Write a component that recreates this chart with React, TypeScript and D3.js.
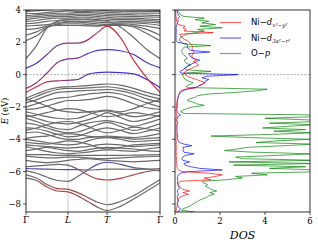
import React from 'react';
import * as d3 from 'd3';

// k path: Γ - L - T - Γ
const K_POINTS = [0, 0.25, 0.5, 0.75, 1.0, 1.23, 1.47, 1.7, 1.93, 2.245, 2.56, 2.875, 3.19];
const K_TICKS = [0, 1.0, 1.93, 3.19];
const K_LABELS = ['Γ', 'L', 'T', 'Γ'];
const E_TICKS = [4, 2, 0, -2, -4, -6, -8];
const DOS_TICKS = [0, 2, 4, 6];

// plain bands (eV at each k point)
const GRAY_BANDS: number[][] = [
  [1.0, 1.8, 2.9, 3.3, 3.4, 3.45, 3.4, 3.35, 3.3, 2.95, 2.3, 1.55, 1.0],
  [2.1, 2.4, 2.9, 3.15, 3.25, 3.25, 3.2, 3.15, 3.1, 3.1, 2.95, 2.55, 2.1],
  [2.45, 2.65, 2.95, 3.1, 3.15, 3.15, 3.1, 3.05, 3.05, 3.05, 3.0, 2.8, 2.45],
  [2.8, 2.85, 3.0, 3.05, 3.05, 3.05, 3.02, 3.0, 3.1, 3.15, 3.1, 3.0, 2.85],
  [3.0, 3.05, 3.1, 3.2, 3.3, 3.3, 3.3, 3.25, 3.2, 3.2, 3.2, 3.15, 3.05],
  [3.15, 3.2, 3.3, 3.35, 3.4, 3.4, 3.45, 3.4, 3.35, 3.3, 3.3, 3.25, 3.2],
  [3.3, 3.35, 3.45, 3.5, 3.5, 3.55, 3.55, 3.5, 3.45, 3.4, 3.4, 3.35, 3.3],
  [3.4, 3.5, 3.55, 3.6, 3.6, 3.65, 3.65, 3.6, 3.55, 3.5, 3.5, 3.45, 3.4],
  [3.55, 3.6, 3.65, 3.7, 3.7, 3.75, 3.75, 3.7, 3.65, 3.62, 3.6, 3.58, 3.55],
  [3.65, 3.7, 3.75, 3.8, 3.8, 3.85, 3.85, 3.8, 3.75, 3.72, 3.7, 3.68, 3.65],
  [3.8, 3.78, 3.85, 3.9, 3.95, 3.92, 3.9, 3.88, 3.85, 3.82, 3.8, 3.8, 3.8],
  [3.9, 3.95, 4.0, 4.05, 4.1, 4.05, 4.0, 4.0, 3.95, 3.92, 3.9, 3.9, 3.9],
  [3.95, 4.1, 4.2, 4.3, 4.3, 4.2, 4.1, 4.1, 4.05, 4.05, 4.0, 4.0, 3.95],
  [-1.45, -1.2, -0.95, -0.8, -0.75, -0.72, -0.68, -0.62, -0.58, -0.65, -0.85, -1.1, -1.3],
  [-1.6, -1.35, -1.1, -0.92, -0.85, -0.85, -0.82, -0.78, -0.75, -0.85, -1.05, -1.3, -1.5],
  [-1.75, -1.55, -1.3, -1.1, -1.05, -1.0, -0.98, -0.95, -0.92, -1.0, -1.2, -1.5, -1.7],
  [-2.0, -1.8, -1.6, -1.45, -1.4, -1.3, -1.2, -1.15, -1.1, -1.2, -1.45, -1.75, -2.0],
  [-2.15, -2.1, -1.95, -1.75, -1.6, -1.6, -1.55, -1.45, -1.35, -1.5, -1.8, -2.05, -2.15],
  [-1.5, -1.7, -1.95, -2.2, -2.3, -2.35, -2.3, -2.25, -2.2, -2.3, -2.1, -1.8, -1.55],
  [-2.3, -2.45, -2.6, -2.7, -2.75, -2.7, -2.5, -2.3, -2.25, -2.4, -2.6, -2.5, -2.3],
  [-2.6, -2.5, -2.35, -2.2, -2.1, -2.15, -2.3, -2.5, -2.6, -2.5, -2.35, -2.45, -2.6],
  [-2.5, -2.7, -2.9, -3.0, -3.05, -2.95, -2.8, -2.6, -2.35, -2.65, -2.9, -2.75, -2.5],
  [-2.7, -2.9, -3.15, -3.35, -3.4, -3.2, -3.0, -2.9, -2.85, -3.0, -3.2, -3.0, -2.75],
  [-3.0, -3.1, -3.3, -3.5, -3.6, -3.55, -3.35, -3.1, -2.95, -3.2, -3.45, -3.3, -3.05],
  [-3.45, -3.3, -3.1, -2.95, -2.9, -3.0, -3.2, -3.45, -3.6, -3.45, -3.25, -3.35, -3.5],
  [-3.3, -3.35, -3.5, -3.7, -3.85, -3.8, -3.6, -3.4, -3.3, -3.45, -3.65, -3.5, -3.3],
  [-3.6, -3.55, -3.7, -3.9, -4.0, -4.0, -3.9, -3.85, -3.8, -3.85, -3.9, -3.8, -3.65],
  [-3.95, -3.85, -3.8, -3.7, -3.65, -3.7, -3.8, -3.85, -3.88, -3.9, -4.0, -3.95, -3.9],
  [-4.0, -4.1, -4.2, -4.3, -4.35, -4.3, -4.1, -3.95, -3.9, -4.0, -4.15, -4.1, -4.05],
  [-4.2, -4.25, -4.3, -4.2, -4.1, -4.15, -4.3, -4.5, -4.6, -4.5, -4.35, -4.3, -4.25],
  [-4.35, -4.4, -4.45, -4.5, -4.55, -4.5, -4.45, -4.35, -4.3, -4.35, -4.45, -4.4, -4.35],
  [-4.45, -4.6, -4.75, -4.85, -4.9, -4.85, -4.8, -4.7, -4.65, -4.7, -4.75, -4.6, -4.5],
  [-4.7, -4.6, -4.5, -4.6, -4.7, -4.75, -4.65, -4.55, -4.5, -4.55, -4.6, -4.7, -4.75],
  [-4.95, -4.95, -4.95, -5.0, -5.0, -5.0, -5.0, -5.0, -5.0, -5.0, -4.98, -4.97, -4.95],
  [-5.05, -5.1, -5.15, -5.15, -5.1, -5.1, -5.15, -5.2, -5.2, -5.15, -5.1, -5.08, -5.05],
  [-5.3, -5.4, -5.45, -5.4, -5.3, -5.25, -5.2, -5.25, -5.3, -5.35, -5.4, -5.35, -5.3],
];

// projected bands: energy, Ni-dx2-y2 weight, Ni-d3z2-r2 weight
const BAND_A = [-1.1, -0.75, -0.45, -0.38, -0.35, -0.3, 0.02, 0.13, 0.15, 0.13, 0.05, -0.3, -0.8];
const BAND_A_X = [0.85, 0.8, 0.75, 0.6, 0.5, 0.3, 0.1, 0.05, 0.05, 0.05, 0.05, 0.05, 0.05];
const BAND_A_Z = [0.05, 0.1, 0.15, 0.3, 0.4, 0.6, 0.8, 0.85, 0.85, 0.85, 0.85, 0.85, 0.85];

const BAND_B = [0.4, 0.7, 1.25, 1.8, 1.95, 1.95, 2.15, 2.6, 3.0, 2.3, 0.9, -0.2, -1.1];
const BAND_B_X = [0.05, 0.15, 0.35, 0.45, 0.45, 0.45, 0.6, 0.75, 0.85, 0.85, 0.85, 0.85, 0.85];
const BAND_B_Z = [0.85, 0.75, 0.55, 0.45, 0.45, 0.45, 0.3, 0.15, 0.05, 0.05, 0.05, 0.05, 0.05];

const BAND_C = [-0.85, -0.5, 0.1, 0.75, 0.97, 1.02, 1.3, 1.5, 1.55, 1.48, 1.25, 0.75, 0.42];
const BAND_C_X = [0.65, 0.6, 0.45, 0.4, 0.4, 0.35, 0.2, 0.1, 0.05, 0.05, 0.05, 0.05, 0.05];
const BAND_C_Z = [0.25, 0.3, 0.45, 0.5, 0.5, 0.55, 0.7, 0.8, 0.85, 0.85, 0.85, 0.85, 0.85];

const BAND_D = [-5.95, -6.1, -6.35, -6.55, -6.6, -6.3, -5.9, -5.55, -5.42, -5.55, -5.75, -5.85, -5.95];
const BAND_D_X = [0, 0, 0, 0, 0, 0, 0, 0, 0, 0, 0, 0, 0];
const BAND_D_Z = [0, 0, 0, 0, 0, 0.1, 0.3, 0.5, 0.6, 0.5, 0.3, 0.1, 0];

const BAND_E = [-5.82, -5.83, -5.85, -5.87, -5.88, -5.88, -5.9, -5.88, -5.85, -5.85, -5.86, -5.85, -5.82];
const BAND_E_X = [0, 0, 0, 0, 0, 0, 0, 0, 0, 0, 0, 0, 0];
const BAND_E_Z = [0.5, 0.5, 0.5, 0.5, 0.45, 0.3, 0.1, 0, 0, 0, 0, 0, 0];

const BAND_F = [-5.7, -5.65, -5.6, -5.55, -5.6, -5.85, -6.2, -6.45, -6.52, -6.42, -6.2, -6.0, -5.9];
const BAND_F_X = [0, 0, 0, 0, 0, 0.2, 0.5, 0.7, 0.75, 0.7, 0.55, 0.4, 0.2];
const BAND_F_Z = [0, 0, 0, 0, 0, 0, 0, 0, 0, 0, 0, 0, 0];

const BAND_G = [-6.2, -6.4, -6.8, -7.05, -7.1, -7.3, -7.6, -7.9, -8.05, -7.85, -7.5, -7.0, -6.5];
const BAND_H = [-6.4, -6.55, -6.95, -7.2, -7.25, -7.5, -7.85, -8.2, -8.4, -8.15, -7.7, -7.2, -6.7];
const BAND_GH_X = [0, 0.1, 0.4, 0.5, 0.5, 0.45, 0.3, 0.1, 0, 0, 0, 0, 0];
const BAND_GH_Z = [0, 0, 0, 0, 0, 0, 0, 0, 0, 0, 0, 0, 0];

// DOS sampled every 0.1 eV from -8.5 to 4.0
const DOS_E = d3.range(126).map((i) => -8.5 + i * 0.1);

const DOS_DX2Y2 = [
  0.05, 0.05, 0.06, 0.08, 0.1, 0.1, 0.12, 0.12, 0.15, 0.2,
  0.35, 0.6, 0.35, 0.65, 0.35, 0.25, 0.18, 0.15, 0.15, 0.25,
  1.6, 1.3, 1.8, 2.1, 1.5, 0.3, 0.15, 0.1, 0.08, 0.08,
  0.08, 0.07, 0.06, 0.07, 0.06, 0.05, 0.06, 0.05, 0.05, 0.06,
  0.06, 0.05, 0.05, 0.06, 0.05, 0.05, 0.04, 0.05, 0.05, 0.04,
  0.04, 0.05, 0.04, 0.05, 0.05, 0.04, 0.05, 0.04, 0.05, 0.06,
  0.08, 0.06, 0.05, 0.05, 0.06, 0.06, 0.07, 0.08, 0.08, 0.1,
  0.1, 0.12, 0.15, 0.18, 0.2, 0.25, 0.45, 0.95, 1.05, 1.2,
  1.35, 1.15, 0.95, 0.75, 0.55, 0.45, 0.4, 0.45, 0.6, 0.75,
  0.9, 1.05, 0.95, 0.8, 0.95, 0.85, 0.75, 0.75, 0.8, 0.85,
  0.8, 0.75, 0.8, 0.75, 0.7, 0.65, 0.55, 0.4, 0.3, 0.25,
  0.2, 1.7, 0.4, 0.5, 0.35, 0.45, 0.15, 0.1, 0.08, 0.06,
  0.05, 0.05, 0.04, 0.04, 0.03, 0.03,
];

const DOS_D3Z2R2 = [
  0.1, 0.2, 0.25, 0.15, 0.12, 0.1, 0.12, 0.15, 0.12, 0.1,
  0.12, 0.15, 0.12, 0.1, 0.15, 0.2, 0.15, 0.12, 0.1, 0.12,
  0.12, 0.1, 0.12, 0.15, 0.25, 0.6, 2.1, 1.1, 0.7, 0.45,
  0.4, 0.65, 0.35, 0.3, 0.35, 0.45, 0.85, 0.4, 0.35, 0.4,
  0.35, 0.75, 0.4, 0.2, 0.15, 0.12, 0.1, 0.12, 0.1, 0.1,
  0.1, 0.08, 0.1, 0.08, 0.1, 0.12, 0.1, 0.08, 0.1, 0.12,
  0.25, 0.15, 0.1, 0.08, 0.08, 0.1, 0.1, 0.1, 0.1, 0.12,
  0.12, 0.15, 0.15, 0.2, 0.25, 0.35, 0.55, 0.9, 1.05, 1.2,
  1.3, 1.35, 1.5, 1.2, 1.4, 2.8, 0.25, 0.22, 0.35, 0.45,
  0.52, 0.65, 0.8, 0.95, 1.1, 0.8, 0.7, 0.65, 0.6, 1.55,
  0.7, 0.6, 0.55, 0.55, 0.52, 0.1, 0.05, 0.05, 0.05, 0.05,
  0.05, 0.05, 0.06, 0.05, 0.05, 0.06, 0.08, 0.1, 0.15, 0.12,
  0.15, 0.2, 0.15, 0.12, 0.1, 0.08,
];

const DOS_OP = [
  0.9, 0.3, 0.35, 0.55, 0.7, 0.8, 0.95, 1.05, 1.2, 1.4,
  1.5, 1.75, 1.55, 1.85, 1.6, 1.5, 1.35, 1.45, 1.25, 1.2,
  2.3, 3.0, 2.7, 4.1, 3.4, 6.6, 6.4, 4.2, 5.8, 2.6,
  6.2, 2.4, 6.3, 3.0, 2.7, 4.5, 6.1, 3.5, 2.2, 2.8,
  3.2, 4.8, 6.2, 3.6, 4.5, 6.0, 3.4, 1.6, 4.2, 6.1,
  4.4, 5.8, 3.9, 5.0, 6.2, 4.2, 6.4, 5.9, 4.0, 6.3,
  6.6, 0.4, 0.25, 0.35, 0.5, 0.8, 1.3, 0.95, 0.8, 0.55,
  0.65, 0.9, 1.0, 1.5, 2.7, 3.6, 4.1, 0.55, 0.5, 0.7,
  0.8, 0.6, 0.45, 0.4, 0.35, 0.3, 0.5, 1.6, 0.5, 0.45,
  0.55, 0.7, 0.5, 0.45, 0.4, 0.55, 0.5, 0.4, 0.35, 0.3,
  0.3, 0.35, 0.4, 1.6, 0.4, 0.3, 0.2, 0.2, 0.25, 0.4,
  0.5, 0.9, 1.3, 1.0, 2.1, 1.1, 1.8, 1.2, 1.5, 0.9,
  1.3, 0.4, 0.25, 0.2, 0.15, 0.1,
];

const BAND_GRAY = '#6a6a6a';
const RED = '#dc2828';
const BLUE = '#3232e6';

const weightColor = (wx: number, wz: number) => {
  const total = wx + wz;
  if (total <= 0) return BAND_GRAY;
  const hue = d3.interpolateRgb(BLUE, RED)(wx / total);
  return d3.interpolateRgb(BAND_GRAY, hue)(Math.min(1, total));
};

export default function App() {
  const W = 318;
  const H = 248;
  const top = 10;
  const bottom = 212;
  const bx0 = 26;
  const bx1 = 160;
  const dx0 = 175;
  const dx1 = 310;

  const x = d3.scaleLinear().domain([0, 3.19]).range([bx0, bx1]);
  const y = d3.scaleLinear().domain([-8.5, 4]).range([bottom, top]);
  const xd = d3.scaleLinear().domain([0, 6]).range([dx0, dx1]);

  const bandLine = d3
    .line<number>()
    .x((_, i) => x(K_POINTS[i]))
    .y((e) => y(e))
    .curve(d3.curveMonotoneX);

  const dosLine = d3
    .line<number>()
    .x((v) => xd(v))
    .y((_, i) => y(DOS_E[i]));

  const colored = [
    { id: 'bd', e: BAND_D, wx: BAND_D_X, wz: BAND_D_Z },
    { id: 'be', e: BAND_E, wx: BAND_E_X, wz: BAND_E_Z },
    { id: 'bf', e: BAND_F, wx: BAND_F_X, wz: BAND_F_Z },
    { id: 'bg', e: BAND_G, wx: BAND_GH_X, wz: BAND_GH_Z },
    { id: 'bh', e: BAND_H, wx: BAND_GH_X, wz: BAND_GH_Z },
    { id: 'bc', e: BAND_C, wx: BAND_C_X, wz: BAND_C_Z },
    { id: 'ba', e: BAND_A, wx: BAND_A_X, wz: BAND_A_Z },
    { id: 'bb', e: BAND_B, wx: BAND_B_X, wz: BAND_B_Z },
  ];

  const serif = "'DejaVu Serif', 'Liberation Serif', serif";
  const sans = "'DejaVu Sans', sans-serif";

  const dosSeries = [
    { v: DOS_OP, c: '#008000' },
    { v: DOS_D3Z2R2, c: '#0000ff' },
    { v: DOS_DX2Y2, c: '#ff0000' },
  ];

  return (
    <svg width={W} height={H} style={{ position: 'absolute', left: 0, top: 0, background: '#fff' }}>
      <defs>
        <clipPath id="clipBand">
          <rect x={bx0} y={top} width={bx1 - bx0} height={bottom - top} />
        </clipPath>
        <clipPath id="clipDos">
          <rect x={dx0} y={top} width={dx1 - dx0} height={bottom - top} />
        </clipPath>
        {colored.map((b) => (
          <linearGradient key={b.id} id={b.id} gradientUnits="userSpaceOnUse" x1={bx0} x2={bx1} y1={0} y2={0}>
            {K_POINTS.map((k, i) => (
              <stop key={i} offset={(x(k) - bx0) / (bx1 - bx0)} stopColor={weightColor(b.wx[i], b.wz[i])} />
            ))}
          </linearGradient>
        ))}
      </defs>

      {/* band structure */}
      <g clipPath="url(#clipBand)">
        {K_TICKS.slice(1, 3).map((k) => (
          <line key={k} x1={x(k)} x2={x(k)} y1={top} y2={bottom} stroke="#bbbbbb" strokeWidth={0.8} />
        ))}
        <line x1={bx0} x2={bx1} y1={y(0)} y2={y(0)} stroke="#888" strokeWidth={0.7} strokeDasharray="2,1.5" />
        {GRAY_BANDS.map((b, i) => (
          <path key={i} d={bandLine(b) || ''} fill="none" stroke={BAND_GRAY} strokeWidth={1.2} />
        ))}
        {colored.map((b) => (
          <path key={b.id} d={bandLine(b.e) || ''} fill="none" stroke={`url(#${b.id})`} strokeWidth={1.2} />
        ))}
      </g>
      <rect x={bx0} y={top} width={bx1 - bx0} height={bottom - top} fill="none" stroke="#000" strokeWidth={0.8} />
      {E_TICKS.map((t) => (
        <g key={t}>
          <line x1={bx0 - 3} x2={bx0} y1={y(t)} y2={y(t)} stroke="#000" strokeWidth={0.7} />
          <text x={bx0 - 5} y={y(t)} dy="0.35em" textAnchor="end" fontSize={8.5} fontFamily={serif}>
            {t < 0 ? `−${-t}` : t}
          </text>
        </g>
      ))}
      {K_TICKS.map((k, i) => (
        <g key={i}>
          <line x1={x(k)} x2={x(k)} y1={bottom} y2={bottom + 3} stroke="#000" strokeWidth={0.7} />
          <text x={x(k)} y={bottom + 11} textAnchor="middle" fontSize={9} fontFamily={serif} fontStyle={K_LABELS[i] === 'Γ' ? 'normal' : 'italic'}>
            {K_LABELS[i]}
          </text>
        </g>
      ))}
      <text transform={`translate(8,${(top + bottom) / 2}) rotate(-90)`} textAnchor="middle" fontSize={8.5} fontFamily={serif}>
        <tspan fontStyle="italic">E</tspan> (eV)
      </text>

      {/* DOS */}
      <g clipPath="url(#clipDos)">
        <line x1={dx0} x2={dx1} y1={y(0)} y2={y(0)} stroke="#888" strokeWidth={0.7} strokeDasharray="2,1.5" />
        {dosSeries.map((s, i) => (
          <path key={i} d={dosLine(s.v) || ''} fill="none" stroke={s.c} strokeOpacity={0.75} strokeWidth={0.9} />
        ))}
      </g>
      <rect x={dx0} y={top} width={dx1 - dx0} height={bottom - top} fill="none" stroke="#000" strokeWidth={0.8} />
      {E_TICKS.map((t) => (
        <line key={t} x1={dx0 - 3} x2={dx0} y1={y(t)} y2={y(t)} stroke="#000" strokeWidth={0.7} />
      ))}
      {DOS_TICKS.map((t) => (
        <g key={t}>
          <line x1={xd(t)} x2={xd(t)} y1={bottom} y2={bottom + 3} stroke="#000" strokeWidth={0.7} />
          <text x={xd(t)} y={bottom + 12} textAnchor="middle" fontSize={8.5} fontFamily={serif}>
            {t}
          </text>
        </g>
      ))}
      <text x={(dx0 + dx1) / 2} y={bottom + 27} textAnchor="middle" fontSize={11} fontStyle="italic" fontFamily={serif}>
        DOS
      </text>

      {/* legend */}
      {[
        { c: '#ff0000', main: 'Ni−', sub: 'x²−y²', it: 'd' },
        { c: '#0000ff', main: 'Ni−', sub: '3z²−r²', it: 'd' },
        { c: '#008000', main: 'O−', sub: '', it: 'p' },
      ].map((l, i) => (
        <g key={i} transform={`translate(220,${22.5 + i * 15.5})`}>
          <line x1={0} x2={21} y1={0} y2={0} stroke={l.c} strokeOpacity={0.6} strokeWidth={1.2} />
          <text x={31} y={0} dy="0.35em" fontSize={8.5} fontFamily={sans}>
            {l.main}
            <tspan fontFamily={serif} fontStyle="italic">{l.it}</tspan>
            {l.sub && (
              <tspan dy={2} fontSize={5.5} fontFamily={serif} fontStyle="italic">
                {l.sub}
              </tspan>
            )}
          </text>
        </g>
      ))}
    </svg>
  );
}
